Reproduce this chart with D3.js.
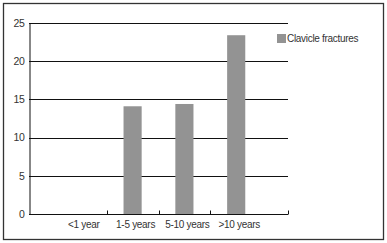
<!DOCTYPE html>
<html>
<head>
<meta charset="utf-8">
<script src="https://cdn.jsdelivr.net/npm/d3@7"></script>
<style>
  body { margin: 0; background: #fff; }
  text { font-family: "Liberation Sans", Arial, sans-serif; letter-spacing: -0.3px; }
</style>
</head>
<body>
<div id="chart"></div>
<script>
const categories = ["<1 year", "1-5 years", "5-10 years", ">10 years"];
const values = [0, 14.1, 14.4, 23.4];
const yTicks = [0, 5, 10, 15, 20, 25];
const seriesName = "Clavicle fractures";

const width = 387;
const height = 243;
const margin = {top: 23, right: 99, bottom: 29, left: 29};

const svg = d3.select("#chart").append("svg")
    .attr("width", width)
    .attr("height", height)
    .attr("viewBox", [0, 0, width, height]);

// outer frame
svg.append("rect")
    .attr("x", 3.5).attr("y", 3.5)
    .attr("width", 380).attr("height", 236)
    .attr("fill", "none")
    .attr("stroke", "#333")
    .attr("stroke-width", 1.3);

const x = d3.scaleBand()
    .domain(categories)
    .range([margin.left, width - margin.right])
    .paddingInner(0)
    .paddingOuter(0.5);

const y = d3.scaleLinear()
    .domain([0, 25])
    .range([height - margin.bottom, margin.top]);

// gridlines
svg.append("g")
    .selectAll("line")
    .data(yTicks.filter(d => d > 0))
    .join("line")
    .attr("x1", margin.left)
    .attr("x2", width - margin.right)
    .attr("y1", d => Math.round(y(d)) + 0.5)
    .attr("y2", d => Math.round(y(d)) + 0.5)
    .attr("stroke", "#111")
    .attr("stroke-width", 1);

// bars
const barW = x.step() * 0.35;
svg.append("g")
    .selectAll("rect")
    .data(values)
    .join("rect")
    .attr("x", (d, i) => x(categories[i]) + x.bandwidth() / 2 - barW / 2)
    .attr("y", d => y(d))
    .attr("width", barW)
    .attr("height", d => y(0) - y(d))
    .attr("fill", "#939393");

// y axis
svg.append("g")
    .attr("transform", `translate(${margin.left + 0.5},0)`)
    .call(d3.axisLeft(y).tickValues(yTicks).tickSize(0).tickPadding(5))
    .call(g => g.select(".domain").attr("stroke", "#111"))
    .call(g => g.selectAll(".tick text")
        .attr("font-size", 10.5)
        .attr("fill", "#333")
        .style("font-family", "'Liberation Sans', Arial, sans-serif"));

// x axis
const x0 = Math.round(y(0)) + 0.5;
const xAxis = svg.append("g");
xAxis.append("line")
    .attr("x1", margin.left)
    .attr("x2", width - margin.right)
    .attr("y1", x0).attr("y2", x0)
    .attr("stroke", "#111");
const tickXs = categories.slice(1).map(c => x(c)).concat([width - margin.right]);
xAxis.selectAll(".tk")
    .data(tickXs)
    .join("line")
    .attr("class", "tk")
    .attr("x1", d => Math.round(d) + 0.5)
    .attr("x2", d => Math.round(d) + 0.5)
    .attr("y1", x0 - 4)
    .attr("y2", x0)
    .attr("stroke", "#111");
xAxis.selectAll("text")
    .data(categories)
    .join("text")
    .attr("x", d => x(d) + x.bandwidth() / 2 + 3)
    .attr("y", x0 + 13)
    .attr("text-anchor", "middle")
    .attr("font-size", 10)
    .attr("fill", "#333")
    .text(d => d);

// legend
const lg = svg.append("g").attr("transform", "translate(277,34)");
lg.append("rect")
    .attr("width", 9).attr("height", 9)
    .attr("fill", "#939393");
lg.append("text")
    .attr("x", 10).attr("y", 8)
    .attr("font-size", 10)
    .attr("fill", "#333")
    .text(seriesName);
</script>
</body>
</html>
